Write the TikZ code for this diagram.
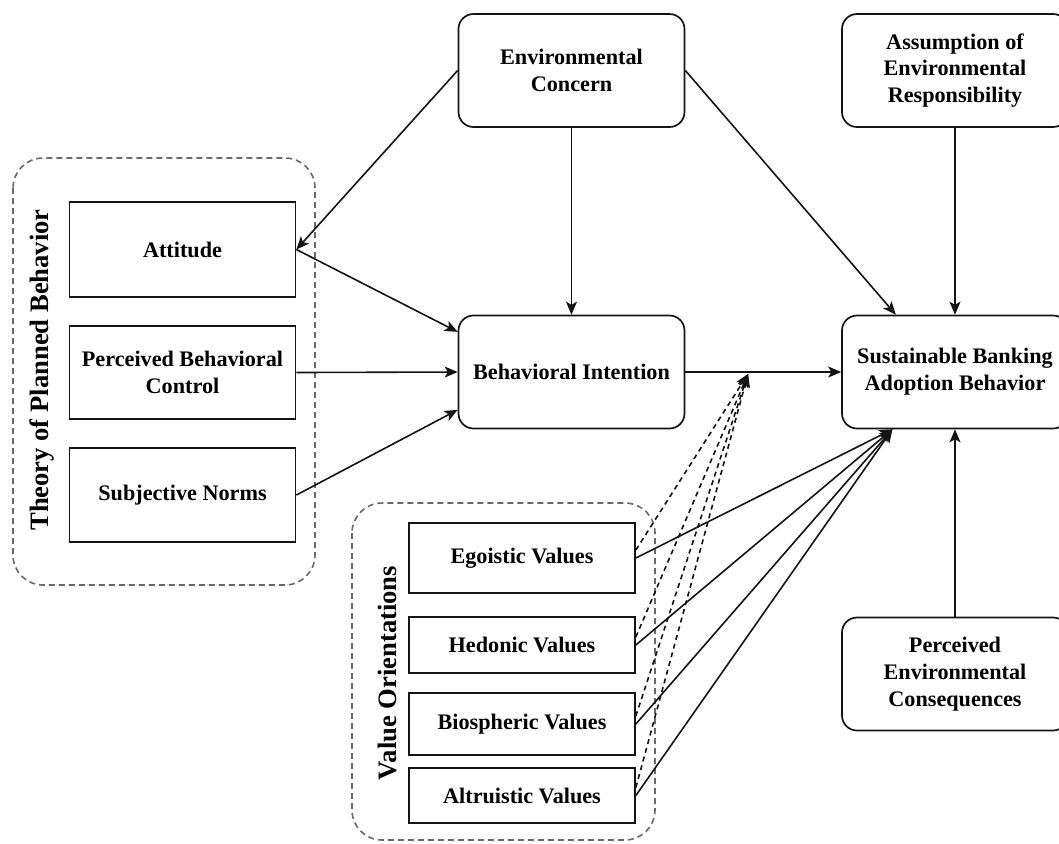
\documentclass[tikz,border=0pt]{standalone}
\usepackage{fontspec}
\setmainfont{Liberation Serif}
\usepackage{tikz}
\usetikzlibrary{calc,arrows.meta,positioning}
\definecolor{grpGray}{RGB}{105,105,105}
\definecolor{lineDark}{RGB}{20,20,20}

\begin{document}
\begin{tikzpicture}[x=0.5pt,y=-0.5pt,
  box/.style={draw=lineDark, line width=0.85pt, align=center, inner sep=2pt,
    minimum width=113pt, font=\bfseries\fontsize{11.1}{13.4}\selectfont},
  rbox/.style={box, rounded corners=7.5pt, minimum height=56.5pt},
  grp/.style={draw=grpGray, line width=0.8pt, dash pattern=on 3pt off 2pt, rounded corners=15pt},
  grplabel/.style={rotate=90, font=\bfseries\fontsize{13.3}{16}\selectfont},
  link/.style={draw=lineDark, line width=0.8pt, -{Stealth[length=6.5pt,width=5.5pt,inset=1.6pt]}},
  dlink/.style={link, dash pattern=on 2.5pt off 2pt}]

\useasboundingbox (0,0) rectangle (1059,843);

\draw[grp] (13,158) rectangle (315,585);
\draw[grp] (352,503) rectangle (655,840);
\node[grplabel] (tpblabel) at (42,370) {Theory of Planned Behavior};
\node[grplabel] (volabel) at (387,673) {Value Orientations};

\node[rbox] (ec) at (571.5,70.5) {Environmental\\Concern};
\node[rbox] (aer) at (955,70.5) {Assumption of\\Environmental\\Responsibility};
\node[rbox] (bi) at (571.5,372) {Behavioral Intention};
\node[rbox] (sbab) at (955,372) {Sustainable Banking\\Adoption Behavior};
\node[rbox] (pec) at (955,674) {Perceived\\Environmental\\Consequences};

\node[box, minimum height=47.5pt] (att) at (182.5,249.5) {Attitude};
\node[box, minimum height=46.5pt] (pbc) at (182.5,372.5) {Perceived Behavioral\\Control};
\node[box, minimum height=47pt] (sn) at (182.5,495) {Subjective Norms};

\node[box, minimum height=35pt] (ego) at (522,558) {Egoistic Values};
\node[box, minimum height=28pt] (hed) at (522,645) {Hedonic Values};
\node[box, minimum height=31pt] (bio) at (522,724) {Biospheric Values};
\node[box, minimum height=27.5pt] (alt) at (522,795.5) {Altruistic Values};

\coordinate (join) at (748,374);

\draw[link] (ec.west) -- (att.east);
\draw[link] (ec.south) -- (bi.north);
\draw[link] (ec.east) -- ($(sbab.north west)!0.24!(sbab.north east)$);
\draw[link] (aer.south) -- (sbab.north);
\draw[link] (pec.north) -- (sbab.south);
\draw[link] (att.east) -- ($(bi.north west)!0.15!(bi.south west)$);
\draw[link] (pbc.east) -- (bi.west);
\draw[link] (sn.east) -- ($(bi.north west)!0.83!(bi.south west)$);
\draw[link] (bi.east) -- (sbab.west);
\foreach \v in {ego,hed,bio,alt}{
  \draw[link] (\v.east) -- ($(sbab.south west)!0.225!(sbab.south east)$);
  \draw[dlink] ($(\v.east)+(0,-8)$) -- (join);
}
\end{tikzpicture}
\end{document}
